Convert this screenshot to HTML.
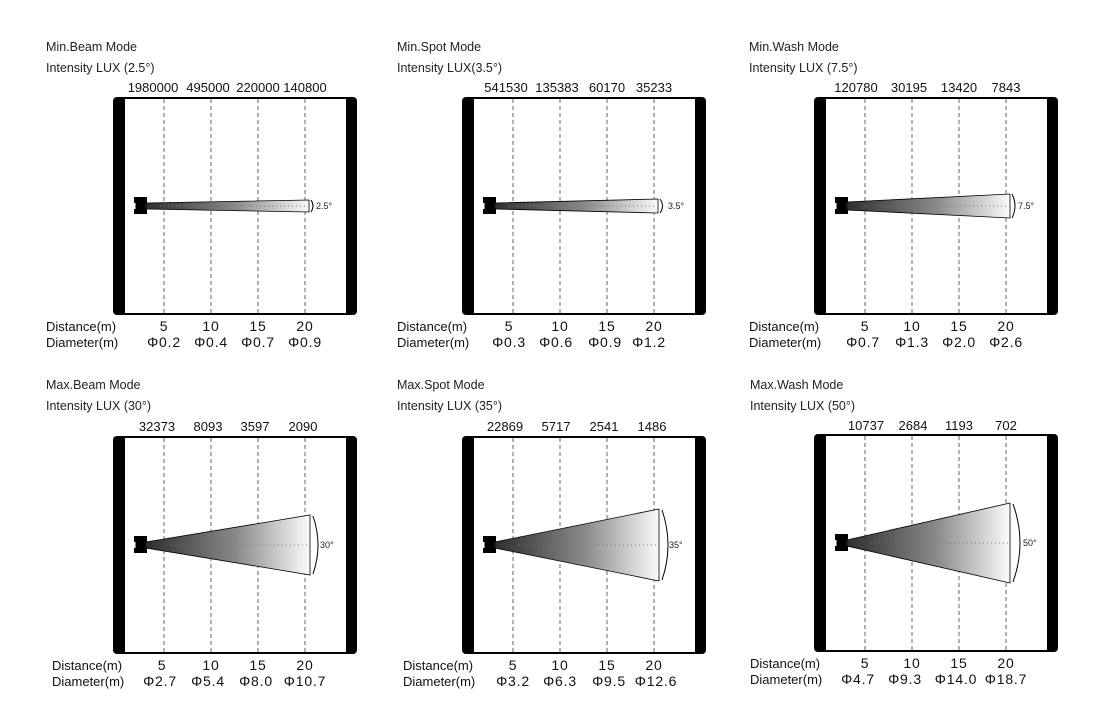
<!DOCTYPE html>
<html><head><meta charset="utf-8"><style>
html,body{margin:0;padding:0;background:#fff;}
svg{display:block;font-family:"Liberation Sans",Arial,sans-serif;}
.h{font-size:12.5px;fill:#222;}
.v{font-size:13px;fill:#111;text-anchor:middle;}
.d{font-size:13px;fill:#111;}
.n{font-size:14px;fill:#111;text-anchor:middle;letter-spacing:0.8px;}
.a{font-size:9px;fill:#222;}
.dash{stroke:#555;stroke-width:0.9;stroke-dasharray:4,3;}
.dot{stroke:#777;stroke-width:1;stroke-dasharray:1,3;}
</style></head><body>
<svg width="1118" height="717" viewBox="0 0 1118 717" xmlns="http://www.w3.org/2000/svg">
<defs>
<linearGradient id="g" x1="0" x2="1" y1="0" y2="0">
<stop offset="0" stop-color="#2e2e2e"/><stop offset="0.55" stop-color="#8a8a8a"/><stop offset="1" stop-color="#fbfbfb"/>
</linearGradient>
<g id="frame">
<rect x="113" y="97" width="244" height="218" rx="4" fill="#000"/>
<rect x="125" y="99" width="221" height="214" fill="#fff"/>
<line x1="164" y1="99" x2="164" y2="313" class="dash"/>
<line x1="211" y1="99" x2="211" y2="313" class="dash"/>
<line x1="258" y1="99" x2="258" y2="313" class="dash"/>
<line x1="305" y1="99" x2="305" y2="313" class="dash"/>
<path d="M134 197H147V203H145.5V209H147V214H134V209H135.5V203H134Z" fill="#000"/>
</g>
</defs>

<!-- Panel 1 -->
<g>
<text x="46" y="51" class="h">Min.Beam Mode</text>
<text x="46" y="72" class="h">Intensity LUX (2.5°)</text>
<text x="153" y="92" class="v">1980000</text><text x="208" y="92" class="v">495000</text><text x="258" y="92" class="v">220000</text><text x="305" y="92" class="v">140800</text>
<use href="#frame"/>
<polygon points="146,203 309,200 309,212 146,209" fill="url(#g)" stroke="#000" stroke-width="0.8"/>
<line x1="160" y1="206" x2="308" y2="206" class="dot"/>
<path d="M311 200 Q315 206 311 212" fill="none" stroke="#000" stroke-width="1"/>
<text x="316" y="209" class="a">2.5°</text>
<text x="46" y="331" class="d">Distance(m)</text><text x="46" y="347" class="d">Diameter(m)</text>
<text x="164" y="331" class="n">5</text><text x="211" y="331" class="n">10</text><text x="258" y="331" class="n">15</text><text x="305" y="331" class="n">20</text>
<text x="164" y="347" class="n">Φ0.2</text><text x="211" y="347" class="n">Φ0.4</text><text x="258" y="347" class="n">Φ0.7</text><text x="305" y="347" class="n">Φ0.9</text>
</g>

<!-- Panel 2 -->
<g transform="translate(349,0)">
<text x="48" y="51" class="h">Min.Spot Mode</text>
<text x="48" y="72" class="h">Intensity LUX(3.5°)</text>
<text x="157" y="92" class="v">541530</text><text x="208" y="92" class="v">135383</text><text x="258" y="92" class="v">60170</text><text x="305" y="92" class="v">35233</text>
<use href="#frame"/>
<polygon points="146,203 309,199 309,213 146,209" fill="url(#g)" stroke="#000" stroke-width="0.8"/>
<line x1="160" y1="206" x2="308" y2="206" class="dot"/>
<path d="M311 199 Q316 206 311 213" fill="none" stroke="#000" stroke-width="1"/>
<text x="319" y="209" class="a">3.5°</text>
<text x="48" y="331" class="d">Distance(m)</text><text x="48" y="347" class="d">Diameter(m)</text>
<text x="160" y="331" class="n">5</text><text x="211" y="331" class="n">10</text><text x="258" y="331" class="n">15</text><text x="305" y="331" class="n">20</text>
<text x="160" y="347" class="n">Φ0.3</text><text x="207" y="347" class="n">Φ0.6</text><text x="256" y="347" class="n">Φ0.9</text><text x="300" y="347" class="n">Φ1.2</text>
</g>

<!-- Panel 3 -->
<g transform="translate(701,0)">
<text x="48" y="51" class="h">Min.Wash Mode</text>
<text x="48" y="72" class="h">Intensity LUX (7.5°)</text>
<text x="155" y="92" class="v">120780</text><text x="208" y="92" class="v">30195</text><text x="258" y="92" class="v">13420</text><text x="305" y="92" class="v">7843</text>
<use href="#frame"/>
<polygon points="146,202 309,194 309,218 146,210" fill="url(#g)" stroke="#000" stroke-width="0.8"/>
<line x1="160" y1="206" x2="308" y2="206" class="dot"/>
<path d="M311 194 Q317 206 311 218" fill="none" stroke="#000" stroke-width="1"/>
<text x="317" y="209" class="a">7.5°</text>
<text x="48" y="331" class="d">Distance(m)</text><text x="48" y="347" class="d">Diameter(m)</text>
<text x="164" y="331" class="n">5</text><text x="211" y="331" class="n">10</text><text x="258" y="331" class="n">15</text><text x="305" y="331" class="n">20</text>
<text x="162" y="347" class="n">Φ0.7</text><text x="211" y="347" class="n">Φ1.3</text><text x="258" y="347" class="n">Φ2.0</text><text x="305" y="347" class="n">Φ2.6</text>
</g>

<!-- Panel 4 -->
<g transform="translate(0,339)">
<text x="46" y="50" class="h">Max.Beam Mode</text>
<text x="46" y="71" class="h">Intensity LUX (30°)</text>
<text x="157" y="92" class="v">32373</text><text x="208" y="92" class="v">8093</text><text x="255" y="92" class="v">3597</text><text x="303" y="92" class="v">2090</text>
<use href="#frame"/>
<polygon points="146,203 310,176 310,236 146,209" fill="url(#g)" stroke="#000" stroke-width="0.8"/>
<line x1="170" y1="206" x2="308" y2="206" class="dot"/>
<path d="M313 177 Q323 206 313 235" fill="none" stroke="#000" stroke-width="1"/>
<text x="320" y="209" class="a">30°</text>
<text x="52" y="331" class="d">Distance(m)</text><text x="52" y="347" class="d">Diameter(m)</text>
<text x="162" y="331" class="n">5</text><text x="211" y="331" class="n">10</text><text x="258" y="331" class="n">15</text><text x="305" y="331" class="n">20</text>
<text x="160" y="347" class="n">Φ2.7</text><text x="208" y="347" class="n">Φ5.4</text><text x="256" y="347" class="n">Φ8.0</text><text x="305" y="347" class="n">Φ10.7</text>
</g>

<!-- Panel 5 -->
<g transform="translate(349,339)">
<text x="48" y="50" class="h">Max.Spot Mode</text>
<text x="48" y="71" class="h">Intensity LUX (35°)</text>
<text x="156" y="92" class="v">22869</text><text x="207" y="92" class="v">5717</text><text x="255" y="92" class="v">2541</text><text x="303" y="92" class="v">1486</text>
<use href="#frame"/>
<polygon points="146,203 310,170 310,242 146,209" fill="url(#g)" stroke="#000" stroke-width="0.8"/>
<line x1="170" y1="206" x2="308" y2="206" class="dot"/>
<path d="M313 171 Q325 206 313 241" fill="none" stroke="#000" stroke-width="1"/>
<text x="320" y="209" class="a">35°</text>
<text x="54" y="331" class="d">Distance(m)</text><text x="54" y="347" class="d">Diameter(m)</text>
<text x="164" y="331" class="n">5</text><text x="211" y="331" class="n">10</text><text x="258" y="331" class="n">15</text><text x="305" y="331" class="n">20</text>
<text x="164" y="347" class="n">Φ3.2</text><text x="211" y="347" class="n">Φ6.3</text><text x="260" y="347" class="n">Φ9.5</text><text x="307" y="347" class="n">Φ12.6</text>
</g>

<!-- Panel 6 -->
<g transform="translate(701,337)">
<text x="49" y="52" class="h">Max.Wash Mode</text>
<text x="49" y="73" class="h">Intensity LUX (50°)</text>
<text x="165" y="93" class="v">10737</text><text x="212" y="93" class="v">2684</text><text x="258" y="93" class="v">1193</text><text x="305" y="93" class="v">702</text>
<use href="#frame"/>
<polygon points="146,203 309,166 309,246 146,209" fill="url(#g)" stroke="#000" stroke-width="0.8"/>
<line x1="170" y1="206" x2="308" y2="206" class="dot"/>
<path d="M312 167 Q326 206 312 245" fill="none" stroke="#000" stroke-width="1"/>
<text x="322" y="209" class="a">50°</text>
<text x="49" y="331" class="d">Distance(m)</text><text x="49" y="347" class="d">Diameter(m)</text>
<text x="164" y="331" class="n">5</text><text x="211" y="331" class="n">10</text><text x="258" y="331" class="n">15</text><text x="305" y="331" class="n">20</text>
<text x="157" y="347" class="n">Φ4.7</text><text x="204" y="347" class="n">Φ9.3</text><text x="255" y="347" class="n">Φ14.0</text><text x="305" y="347" class="n">Φ18.7</text>
</g>
</svg>
</body></html>
